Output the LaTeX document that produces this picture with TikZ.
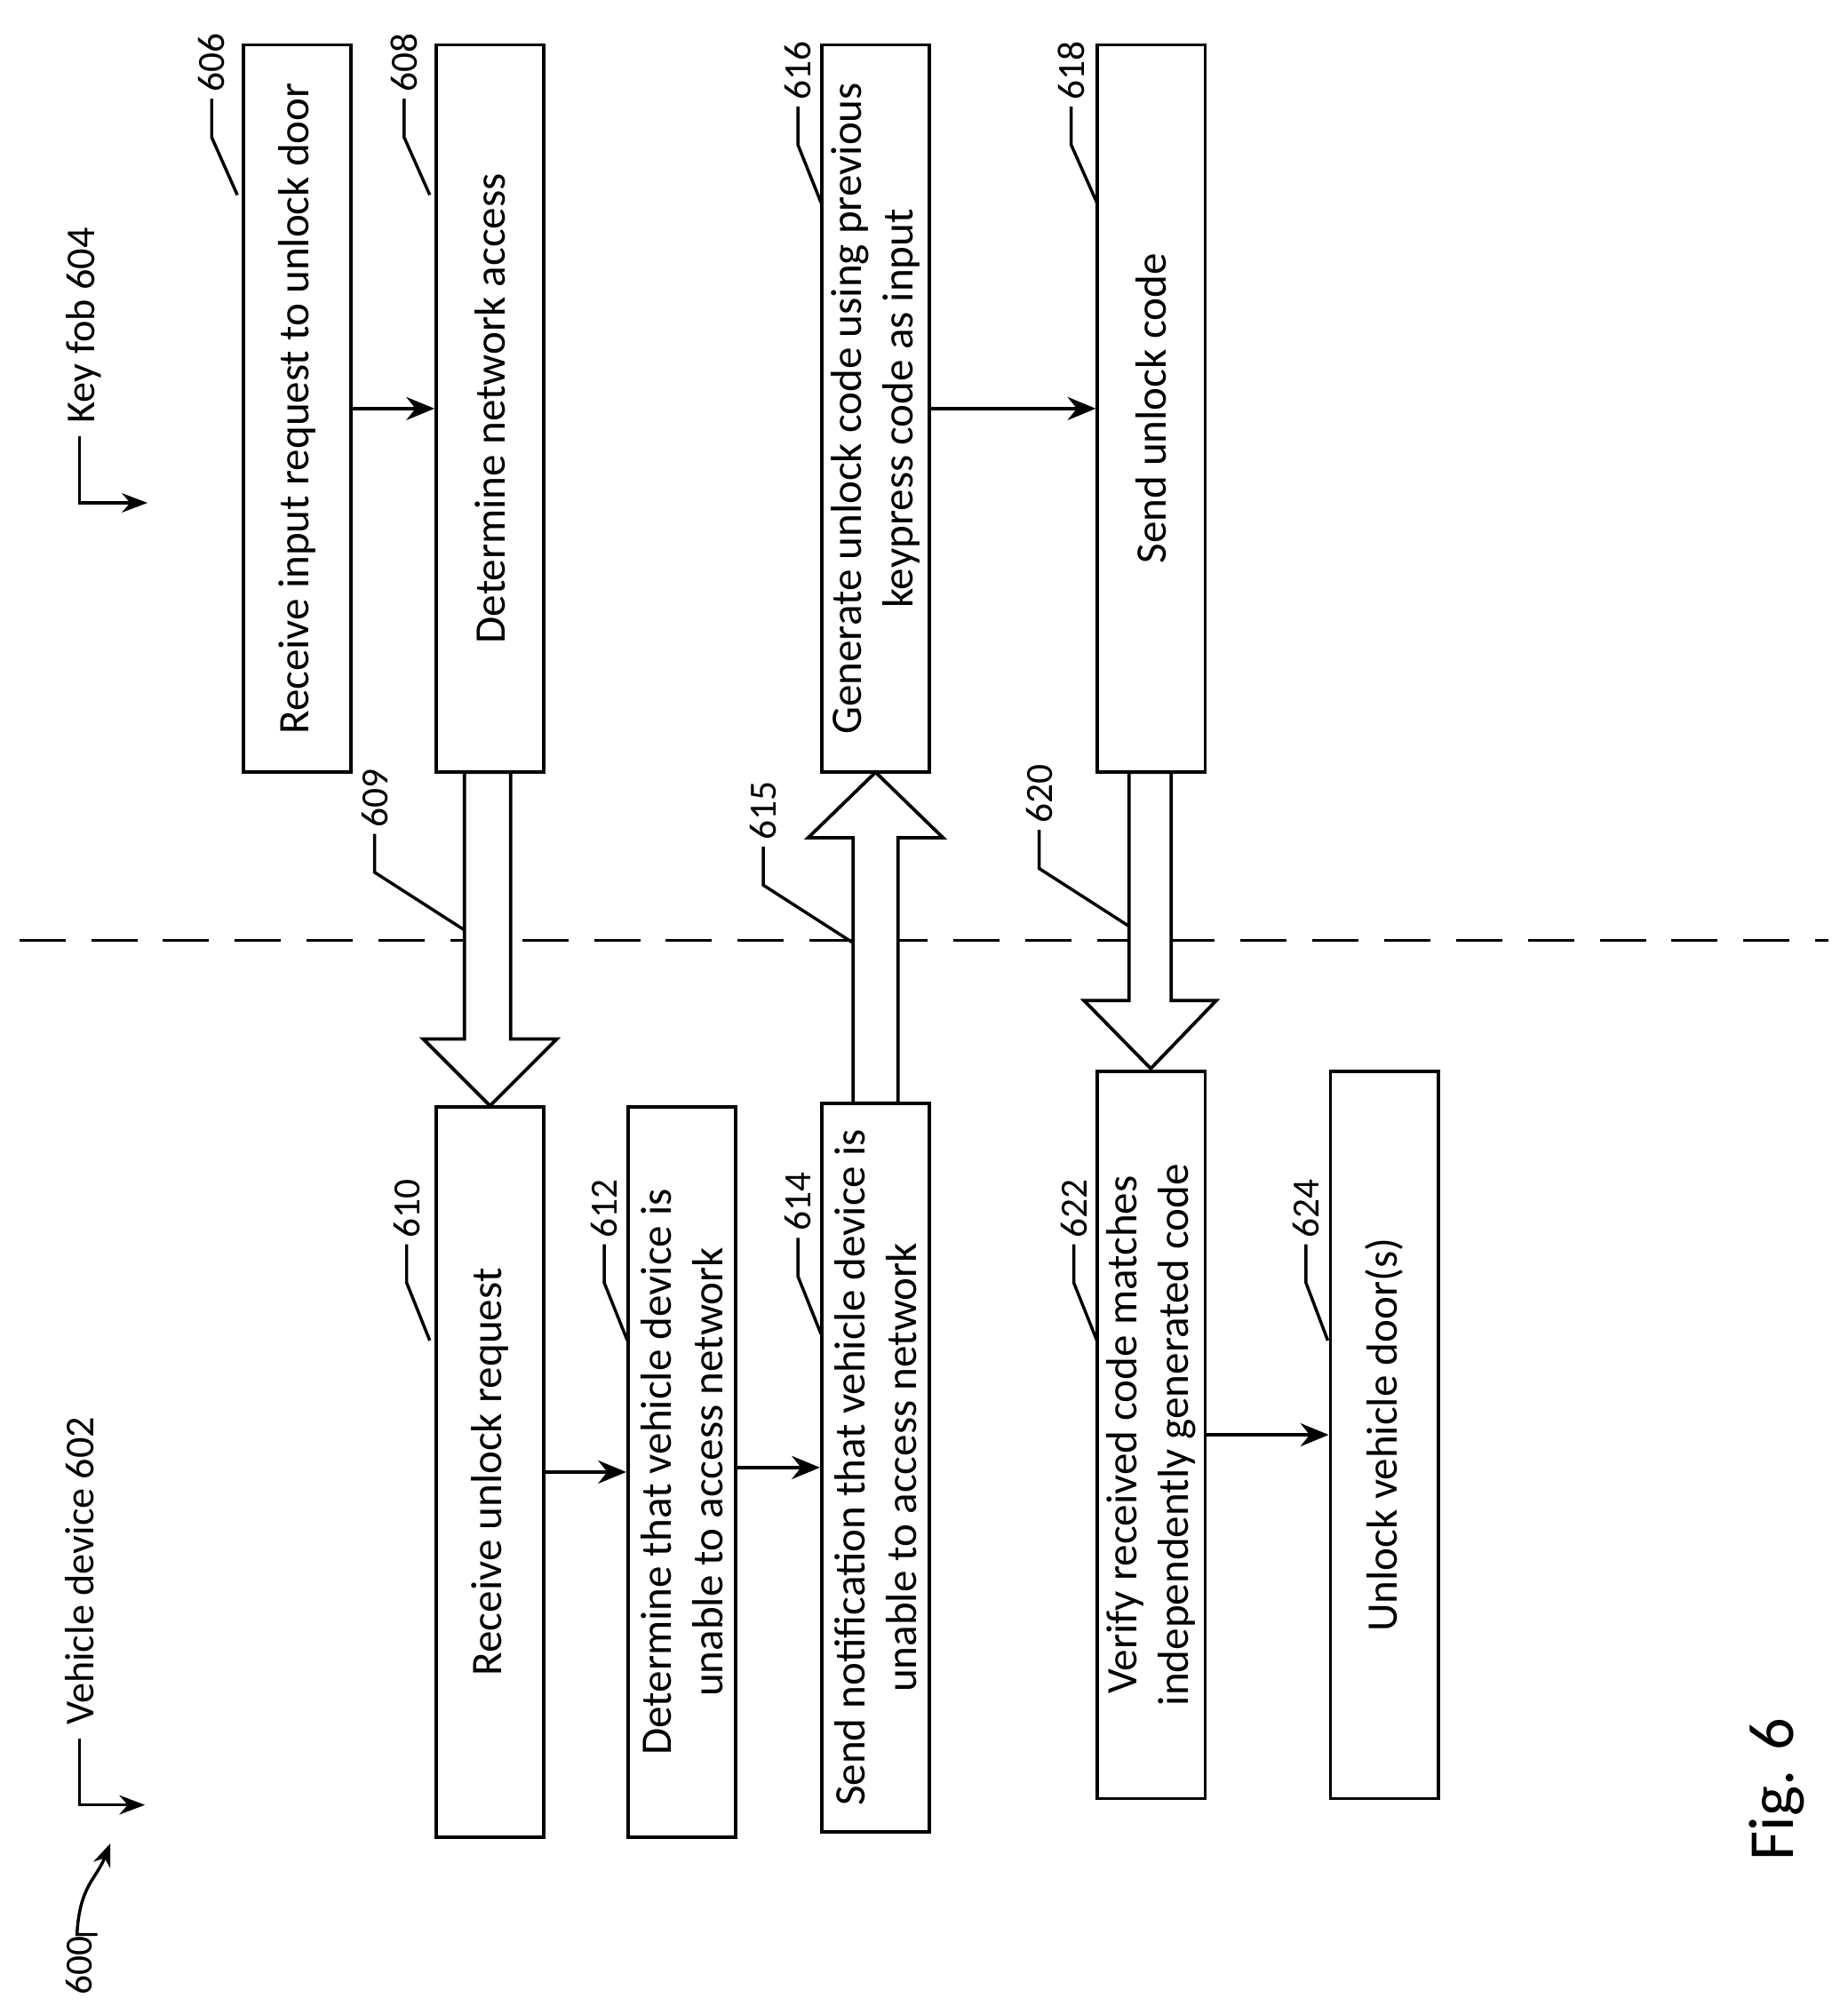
\documentclass[tikz,border=0pt]{standalone}
\usepackage{fontspec}
\setmainfont{Carlito}
\usetikzlibrary{arrows.meta}
\begin{document}
\begin{tikzpicture}[x=1pt,y=-1pt,
  box/.style={draw,line width=2.6pt,minimum width=84pt,inner sep=0pt},
  txt/.style={rotate=90,align=center,font=\fontsize{34}{40}\selectfont},
  num/.style={rotate=90,font=\fontsize{30}{34}\selectfont,inner sep=2pt},
  lead/.style={line width=2.4pt},
  conn/.style={line width=2.6pt,-{Stealth[length=22pt,width=18pt]}},
  blk/.style={draw,line width=2.6pt,fill=white}]
\useasboundingbox (0,0) rectangle (1440,1570);
% boxes
\node[box,minimum height=567pt] (n606) at (231.5,318.5) {};
\node[box,minimum height=567pt] (n608) at (382,318.5) {};
\node[box,minimum height=567pt] (n616) at (682.5,318.5) {};
\node[box,minimum height=567pt] (n618) at (897.5,318.5) {};
\node[box,minimum height=569pt] (n610) at (382,1147.5) {};
\node[box,minimum height=569pt] (n612) at (531.5,1147.5) {};
\node[box,minimum height=568pt] (n614) at (682.5,1144) {};
\node[box,minimum height=567pt] (n622) at (897.5,1118.5) {};
\node[box,minimum height=567pt] (n624) at (1079,1118.5) {};
\node[txt] at (n606) {Receive input request to unlock door};
\node[txt] at (n608) {Determine network access};
\node[txt] at (n616) {Generate unlock code using previous\\keypress code as input};
\node[txt] at (n618) {Send unlock code};
\node[txt] at (n610) {Receive unlock request};
\node[txt] at (n612) {Determine that vehicle device is\\unable to access network};
\node[txt] at (n614) {Send notification that vehicle device is\\unable to access network};
\node[txt] at (n622) {Verify received code matches\\independently generated code};
\node[txt] at (n624) {Unlock vehicle door(s)};
% connectors
\draw[conn] (n606.east) -- (n608.west);
\draw[conn] (n616.east) -- (n618.west);
\draw[conn] (n610.east) -- (n612.west);
\draw[conn] (n612.east |- n614) -- (n614.west);
\draw[conn] (n622.east) -- (n624.west);
% dashed line
\coordinate (dl) at (15,733); \coordinate (dr) at (1425,733);
\draw[line width=2.6pt,dash pattern=on 36pt off 20pt] (dl) -- (dr);
% block arrows
\draw[blk] (362,602) -- (398,602) -- (398,810) -- (434,810) -- (382,862) -- (330,810) -- (362,810) -- cycle;
\draw[blk] (665,860) -- (700,860) -- (700,653) -- (735,653) -- (682.5,602) -- (630,653) -- (665,653) -- cycle;
\draw[blk] (880,602) -- (913,602) -- (913,780) -- (948,780) -- (897,833) -- (845,780) -- (880,780) -- cycle;
% reference labels
\newcommand{\reflab}[4]{% x0 y0 xt label
  \draw[lead] (#1,#2) -- (#3,#2-45) -- (#3,#2-75);
  \node[num,anchor=west] at (#3,#2-78) {#4};}
\reflab{185}{152}{165}{606}
\reflab{335}{152}{315}{608}
\reflab{640}{158}{622}{616}
\reflab{855}{158}{835}{618}
\reflab{362}{725}{292}{609}
\reflab{665}{735}{595}{615}
\reflab{880}{722}{810}{620}
\reflab{335}{1045}{317}{610}
\reflab{489}{1045}{471}{612}
\reflab{640}{1040}{622}{614}
\reflab{855}{1045}{837}{622}
\reflab{1035}{1045}{1018}{624}
% lanes
\node[num,anchor=west,font=\fontsize{32}{36}\selectfont] (kf) at (65,332) {Key fob 604};
\coordinate (kfe) at (115,392);
\draw[lead,-{Stealth[length=20pt,width=15pt]}] (62,340) -- (62,392) -- (kfe);
\node[num,anchor=west,font=\fontsize{32}{36}\selectfont] (vd) at (62,1347) {Vehicle device 602};
\coordinate (vde) at (113,1407);
\draw[lead,-{Stealth[length=20pt,width=15pt]}] (62,1355) -- (62,1407) -- (vde);
\node[num,anchor=west] (n600) at (62,1557) {600};
\coordinate (a600) at (86,1437);
\draw[lead,-{Stealth[length=18pt,width=14pt]}] (76,1508) -- (60,1508) .. controls (62,1470) and (75,1465) .. (a600);
\node[rotate=90,font=\fontsize{50}{56}\selectfont] (fig) at (1385,1395) {Fig. 6};
\end{tikzpicture}
\end{document}
